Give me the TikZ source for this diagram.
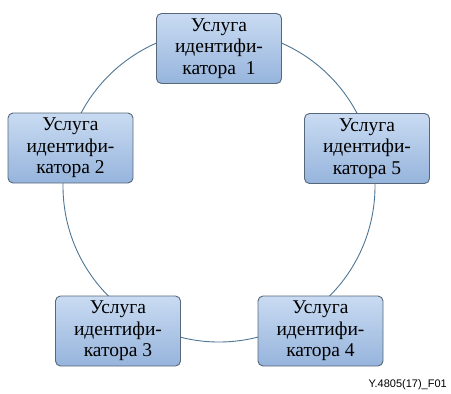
\documentclass[tikz,border=0pt]{standalone}
\usepackage{fontspec}
\setmainfont{Liberation Serif}
\newfontfamily\labelfont{Liberation Sans}
\begin{document}
\begin{tikzpicture}[x=1pt,y=-1pt,
  svc/.style={draw=boxborder, line width=0.9pt, rounded corners=5pt,
    top color=boxtop, bottom color=boxbot, minimum width=125pt, minimum height=70pt,
    inner sep=0pt, align=center, font=\fontsize{19.5}{21.5}\selectfont},
  ring/.style={draw=ringcol, line width=0.9pt}]
\definecolor{boxborder}{HTML}{56687A}
\definecolor{boxtop}{HTML}{C9DBF2}
\definecolor{boxbot}{HTML}{96B4DC}
\definecolor{ringcol}{HTML}{4E7593}
\useasboundingbox (0,0) rectangle (451,394);
\coordinate (c) at (219,186);
\draw[ring] (c) circle[radius=156];
\node[svc] (s1) at (219,48.5) {Услуга\\идентифи-\\катора~~1};
\node[svc] (s2) at (70.5,148) {Услуга\\идентифи-\\катора 2};
\node[svc] (s5) at (367,148.5) {Услуга\\идентифи-\\катора 5};
\node[svc] (s3) at (118,331) {Услуга\\идентифи-\\катора 3};
\node[svc] (s4) at (320.5,331) {Услуга\\идентифи-\\катора 4};
\node[anchor=base east, font=\labelfont\fontsize{11}{13}\selectfont, inner sep=0pt] (lbl) at (447,387) {Y.4805(17)\_F01};
\end{tikzpicture}
\end{document}
